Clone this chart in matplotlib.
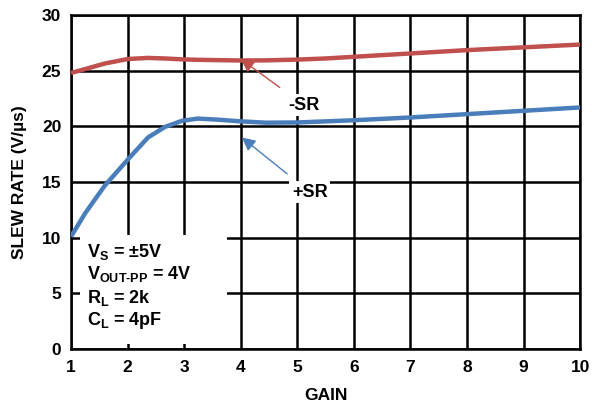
import numpy as np
import matplotlib.pyplot as plt
from matplotlib.patches import Rectangle

plt.rcParams['font.family'] = 'Liberation Sans'
plt.rcParams['font.weight'] = 'bold'
plt.rcParams['mathtext.fontset'] = 'custom'
plt.rcParams['mathtext.rm'] = 'Liberation Sans:bold'
plt.rcParams['mathtext.bf'] = 'Liberation Sans:bold'
plt.rcParams['mathtext.it'] = 'Liberation Sans:bold'

gain = [1, 1.25, 1.6, 2, 2.36, 2.66, 2.96, 3.24, 3.6, 4, 4.45, 5, 5.5, 6, 7, 8, 9, 10]
neg_sr = [24.8, 25.15, 25.65, 26.05, 26.15, 26.1, 26.02, 25.98, 25.95, 25.92, 25.93, 26.0, 26.1, 26.25, 26.55, 26.85, 27.1, 27.35]
pos_sr = [10.1, 12.2, 14.7, 17.0, 19.0, 19.95, 20.5, 20.7, 20.6, 20.45, 20.33, 20.35, 20.45, 20.55, 20.8, 21.1, 21.4, 21.7]

cond_lines = ['$\\mathbf{V_S}$ = ±5V', '$\\mathbf{V_{OUT\\text{-}PP}}$ = 4V', '$\\mathbf{R_L}$ = 2k', '$\\mathbf{C_L}$ = 4pF']

red = '#C0504D'
blue = '#4A7EBB'

fig = plt.figure(figsize=(5.92, 4.07), dpi=100)
ax = fig.add_axes([0.12, 0.1425, 0.86, 0.8205])

ax.plot(gain, neg_sr, color=red, lw=3.2, zorder=5, solid_capstyle='butt', solid_joinstyle='round')
ax.plot(gain, pos_sr, color=blue, lw=3.2, zorder=5, solid_capstyle='butt', solid_joinstyle='round')

ax.set_xlim(1, 10)
ax.set_ylim(0, 30)
ax.set_xticks(range(1, 11))
ax.set_yticks(range(0, 31, 5))
ax.grid(True, color='black', lw=1.8, zorder=1)
ax.set_axisbelow(True)
for s in ax.spines.values():
    s.set_linewidth(1.8)
ax.tick_params(length=0, labelsize=12.5)
ax.tick_params(axis='x', pad=8)
ax.tick_params(axis='y', pad=7)
for lab in ax.get_xticklabels() + ax.get_yticklabels():
    lab.set_fontweight('bold')
ax.set_xlabel('GAIN', fontsize=12.5, fontweight='bold', labelpad=9)
ax.set_ylabel('SLEW RATE (V/µs)', fontsize=12.5, fontweight='bold', labelpad=11)

ax.annotate('-SR', xy=(4.0, 26.05), xytext=(5.12, 21.9), fontsize=13, fontweight='bold',
            ha='center', va='center', zorder=4,
            bbox=dict(fc='white', ec='none', pad=2),
            arrowprops=dict(arrowstyle='-|>', color=red, lw=1, mutation_scale=20, shrinkA=8, shrinkB=0))
ax.annotate('+SR', xy=(4.02, 19.0), xytext=(5.22, 14.1), fontsize=13, fontweight='bold',
            ha='center', va='center', zorder=4,
            bbox=dict(fc='white', ec='none', pad=2),
            arrowprops=dict(arrowstyle='-|>', color=blue, lw=1, mutation_scale=20, shrinkA=8, shrinkB=0))

# white panel behind the test conditions
ax.add_patch(Rectangle((1.15, 0.45), 2.61, 9.75, fc='white', ec='none', zorder=3))
for txt, yb in zip(cond_lines, [8.27, 6.3, 4.1, 2.15]):
    ax.text(1.28, yb, txt, fontsize=13, fontweight='bold', va='baseline', ha='left', zorder=4)

fig.savefig('out.png', dpi=100)
